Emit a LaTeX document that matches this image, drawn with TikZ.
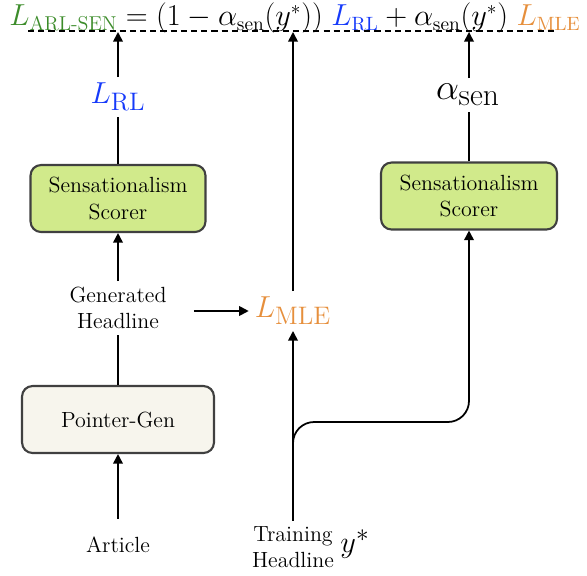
\documentclass[tikz,border=0pt]{standalone}
\usepackage{amsmath}
\usepackage[dvipsnames]{xcolor}
\usepackage{tikz}
\usetikzlibrary{arrows.meta}
\definecolor{ScorerFill}{RGB}{209,234,139}
\definecolor{GenFill}{RGB}{247,245,237}
\definecolor{BoxLine}{RGB}{64,64,64}
\definecolor{LossGreen}{RGB}{60,140,42}
\definecolor{LossBlue}{RGB}{22,58,250}
\definecolor{LossOrange}{RGB}{230,143,60}
\newcommand{\Larl}{{\color{LossGreen}L_{\text{ARL-SEN}}}}
\newcommand{\Lrl}{{\color{LossBlue}L_{\mathrm{RL}}}}
\newcommand{\Lmle}{{\color{LossOrange}L_{\mathrm{MLE}}}}
\newcommand{\asen}{\alpha_{\mathrm{sen}}}

\begin{document}
\begin{tikzpicture}[x=0.02cm,y=-0.02cm,
  model/.style={draw=BoxLine, line width=1.2pt, rounded corners=6pt, align=center,
    font=\fontsize{12.5}{15}\selectfont, minimum height=1.34cm},
  lbl/.style={align=center, font=\fontsize{12.5}{14.5}\selectfont},
  loss/.style={font=\fontsize{19}{23}\selectfont},
  flow/.style={line width=1pt, -{Triangle[length=5.5pt,width=5.5pt]}},
  link/.style={line width=1pt}]
\useasboundingbox (0,0) rectangle (587,575);
%TOP
\node[font=\fontsize{16.3}{20}\selectfont, anchor=base, inner sep=0.5pt] (eq) at (295,25.5)
  {$\Larl = (1-\asen(y^*))\;\Lrl + \asen(y^*)\;\Lmle$};
\coordinate (dl) at (28,31);
\coordinate (dr) at (557,31);
\draw[line width=0.9pt, dash pattern=on 3.5pt off 2.3pt] (dl) -- (dr);
\coordinate (t1) at (118,32);
\coordinate (t2) at (293,32);
\coordinate (t3) at (469,32);
% left branch
\node[loss] (lrl) at (118,97) {$\Lrl$};
\node[model, fill=ScorerFill, minimum width=3.5cm] (scl) at (118,198.5) {Sensationalism\\Scorer};
\node[lbl] (gen) at (118,308) {Generated\\Headline};
\node[model, fill=GenFill, minimum width=3.84cm] (pg) at (118,419.5) {Pointer-Gen};
\node[lbl] (art) at (118,545) {Article};
% middle
\node[loss] (lmle) at (293,311) {$\Lmle$};
\node[lbl] (train) at (293,547) {Training\\Headline};
\node[loss] (ystar) at (355,544) {$y^*$};
% right branch
\node[model, fill=ScorerFill, minimum width=3.52cm] (scr) at (469,196) {Sensationalism\\Scorer};
\node[loss, font=\fontsize{20}{24}\selectfont] (asn) at (468,95) {$\alpha_{\mbox{\fontsize{18}{21}\selectfont sen}}$};
% connections
\draw[flow] (lrl) -- (t1);
\draw[link] (scl) -- (lrl);
\draw[flow] (gen) -- (scl);
\draw[link] (pg) -- (gen);
\draw[flow, shorten <=7pt] (art) -- (pg);
\draw[flow, shorten <=12pt] (gen.east |- lmle.west) -- (lmle.west);
\draw[flow] (lmle) -- (t2);
\draw[flow] (train.north) -- (lmle);
\draw[flow, rounded corners=12pt] (train.north) -- ++(0,-40) |- (469,422) -- (scr.south);
\draw[flow] (asn.north -| t3) -- (t3);
\draw[link] (scr) -- (asn.south -| scr);
\end{tikzpicture}
\end{document}
